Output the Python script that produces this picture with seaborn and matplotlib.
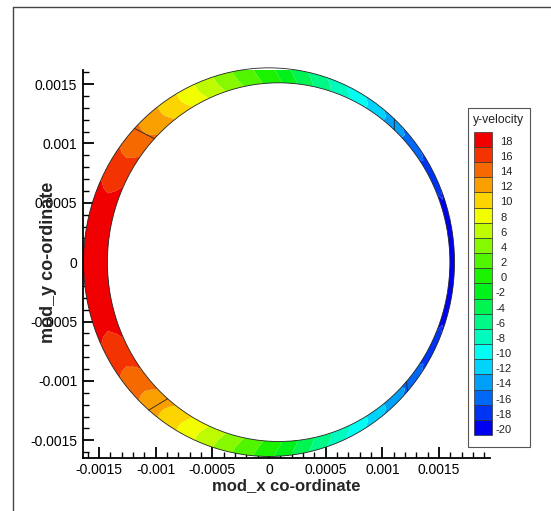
import numpy as np
import matplotlib
matplotlib.use("Agg")
import matplotlib.pyplot as plt
import matplotlib.tri as mtri
from matplotlib.path import Path
from matplotlib.patches import PathPatch, Rectangle, Circle
from matplotlib.lines import Line2D
from matplotlib.colors import LinearSegmentedColormap
from matplotlib.ticker import FixedLocator, FixedFormatter, MultipleLocator
import seaborn as sns

# ---- data -------------------------------------------------------------
# wall y-velocity around the ring, angle measured from +x, counter-clockwise
theta_deg = [0, 10, 20, 30, 40, 50, 60, 70, 80, 90, 100, 110,
             120, 130, 140, 150, 160, 170, 180, 190, 200, 210, 220, 230,
             240, 250, 260, 270, 280, 290, 300, 310, 320, 330, 340, 350]
vy_wall = [-19.7, -19.4, -18.5, -17.1, -15.1, -12.7, -9.8, -6.7, -3.4, 0.5, 3.5, 6.8,
           10.0, 12.9, 15.3, 17.3, 18.8, 19.7, 20.0, 19.7, 18.8, 17.3, 15.3, 12.9,
           10.0, 6.8, 3.5, 0.5, -3.3, -6.7, -9.8, -12.7, -15.1, -17.1, -18.5, -19.4]
# relative magnitude across the gap (0 = inner wall, 1 = outer wall)
gap_pos = [0.0, 0.25, 0.5, 0.75, 1.0]
gap_factor = [1.0, 0.98, 0.97, 0.98, 1.0]

# ring geometry (eccentric annulus)
outer_center = (0.0, 0.0)
outer_radius = 0.001636
inner_center = (0.000085, 0.0)
inner_radius = 0.00151
zone_angles_deg = [47.5, 136.5, 229.6, 318.3]

contour_levels = [-20, -18, -16, -14, -12, -10, -8, -6, -4, -2,
                  0, 2, 4, 6, 8, 10, 12, 14, 16, 18]
legend_title = "y-velocity"

x_ticks = [-0.0015, -0.001, -0.0005, 0.0, 0.0005, 0.001, 0.0015]
x_tick_labels = ["-0.0015", "-0.001", "-0.0005", "0", "0.0005", "0.001", "0.0015"]
y_ticks = [-0.0015, -0.001, -0.0005, 0.0, 0.0005, 0.001, 0.0015]
y_tick_labels = ["-0.0015", "-0.001", "-0.0005", "0", "0.0005", "0.001", "0.0015"]
x_label = "mod_x co-ordinate"
y_label = "mod_y co-ordinate"

# ---- style ------------------------------------------------------------
sns.set_style("ticks")
plt.rcParams["font.family"] = ["Liberation Sans", "DejaVu Sans"]

W, H = 551, 511
fig = plt.figure(figsize=(W / 100, H / 100), dpi=100)
fig.patch.set_facecolor("white")

# small-rainbow colour table, one colour per contour band
rainbow = LinearSegmentedColormap.from_list(
    "small_rainbow", ["#0000f0", "#00ffff", "#00f000", "#ffff00", "#f00000"])
n_bands = len(contour_levels)
band_colors = [rainbow(k / (n_bands - 1)) for k in range(n_bands)]

# ---- main axes ---------------------------------------------------------
ax_l, ax_r, ax_t, ax_b = 82.7, 490.0, 70.0, 458.0
ax = fig.add_axes([ax_l / W, 1 - ax_b / H, (ax_r - ax_l) / W, (ax_b - ax_t) / H])
ax.set_facecolor("white")
ax.set_xlim(-0.001643, 0.001949)
ax.set_ylim(-0.001649, 0.001618)

# structured mesh of the gap
th = np.deg2rad(np.asarray(theta_deg, dtype=float))
n_t, n_r = len(th), len(gap_pos)
xi = inner_center[0] + inner_radius * np.cos(th)
yi = inner_center[1] + inner_radius * np.sin(th)
r_out_mesh = outer_radius * 1.006
xo = outer_center[0] + r_out_mesh * np.cos(th)
yo = outer_center[1] + r_out_mesh * np.sin(th)

px, py, pz = [], [], []
vw = np.asarray(vy_wall, dtype=float)
for s, f in zip(gap_pos, gap_factor):
    px.append((1 - s) * xi + s * xo)
    py.append((1 - s) * yi + s * yo)
    pz.append(vw * f)
px = np.concatenate(px)
py = np.concatenate(py)
pz = np.concatenate(pz)

tris = []
for j in range(n_r - 1):
    for i in range(n_t):
        a = j * n_t + i
        b = j * n_t + (i + 1) % n_t
        c = (j + 1) * n_t + i
        d = (j + 1) * n_t + (i + 1) % n_t
        tris.append((a, b, d))
        tris.append((a, d, c))
triang = mtri.Triangulation(px, py, np.array(tris))

fill_levels = [-1e3] + contour_levels[1:] + [1e3]
cs = ax.tricontourf(triang, pz, levels=fill_levels, colors=band_colors,
                    antialiased=True)

# clip the flood to the exact annulus
phi = np.linspace(0, 2 * np.pi, 721)
outer_v = np.column_stack([outer_center[0] + outer_radius * np.cos(phi),
                           outer_center[1] + outer_radius * np.sin(phi)])
inner_v = np.column_stack([inner_center[0] + inner_radius * np.cos(phi[::-1]),
                           inner_center[1] + inner_radius * np.sin(phi[::-1])])
ring_codes = [Path.MOVETO] + [Path.LINETO] * 719 + [Path.CLOSEPOLY]
ring_path = Path(np.vstack([outer_v, inner_v]), ring_codes + ring_codes)
ring_patch = PathPatch(ring_path, facecolor="none", edgecolor="none",
                       transform=ax.transData)
ax.add_patch(ring_patch)
cs.set_clip_path(ring_patch)

# wall outlines and zone boundaries
ax.add_patch(Circle(outer_center, outer_radius, fill=False, ec="#222222",
                    lw=0.6, clip_on=False))
ax.add_patch(Circle(inner_center, inner_radius, fill=False, ec="#222222",
                    lw=0.6, clip_on=False))
for ang in np.deg2rad(zone_angles_deg):
    ax.plot([inner_center[0] + inner_radius * np.cos(ang),
             outer_center[0] + outer_radius * np.cos(ang)],
            [inner_center[1] + inner_radius * np.sin(ang),
             outer_center[1] + outer_radius * np.sin(ang)],
            color="#222222", lw=0.6)

# axes decoration
sns.despine(ax=ax)
for sp in ("left", "bottom"):
    ax.spines[sp].set_linewidth(1.3)
    ax.spines[sp].set_color("black")
ax.xaxis.set_major_locator(FixedLocator(x_ticks))
ax.xaxis.set_major_formatter(FixedFormatter(x_tick_labels))
ax.yaxis.set_major_locator(FixedLocator(y_ticks))
ax.yaxis.set_major_formatter(FixedFormatter(y_tick_labels))
ax.xaxis.set_minor_locator(MultipleLocator(0.0001))
ax.yaxis.set_minor_locator(MultipleLocator(0.0001))
ax.tick_params(which="major", direction="in", length=8, width=1.3,
               labelsize=10, colors="black", pad=4)
ax.tick_params(which="minor", direction="in", length=4, width=1.0,
               colors="black")
ax.tick_params(axis="x", which="major", pad=3.5)

ax.set_xlabel(x_label, fontsize=12, fontweight="bold")
ax.set_ylabel(y_label, fontsize=13, fontweight="bold")
ax.xaxis.label.set_va("center")
ax.yaxis.label.set_va("center")
ax.xaxis.set_label_coords((286.7 - ax_l) / (ax_r - ax_l), (ax_b - 486.0) / (ax_b - ax_t))
ax.yaxis.set_label_coords((48.5 - ax_l) / (ax_r - ax_l), (ax_b - 262.7) / (ax_b - ax_t))

# ---- overlay in pixel units: page frame and legend ------------------------
ov = fig.add_axes([0, 0, 1, 1], zorder=5)
ov.set_xlim(0, W)
ov.set_ylim(H, 0)
ov.axis("off")
ov.patch.set_alpha(0)

ov.add_line(Line2D([12.5, 12.5], [7.3, H], color="#444444", lw=1.0))
ov.add_line(Line2D([12.5, W], [7.3, 7.3], color="#444444", lw=1.0))

ov.add_patch(Rectangle((468.3, 108.3), 61.7, 338.4, fill=False,
                       ec="#555555", lw=0.8))
ov.text(472.5, 120.0, legend_title, fontsize=8.8, ha="left", va="center",
        color="#222222")
box_top, box_h = 131.7, 15.17
for k, (lev, col) in enumerate(zip(contour_levels[::-1], band_colors[::-1])):
    y0 = box_top + k * box_h
    ov.add_patch(Rectangle((474.0, y0), 18.0, box_h, fc=col, ec="#333333", lw=0.5))
    txt = f"{lev:d}"
    x_txt = 500.5 if lev >= 0 else 495.8
    ov.text(x_txt, y0 + 10.0, txt, fontsize=8, ha="left", va="center",
            color="#222222")

fig.savefig("out.png", dpi=100, facecolor="white")
